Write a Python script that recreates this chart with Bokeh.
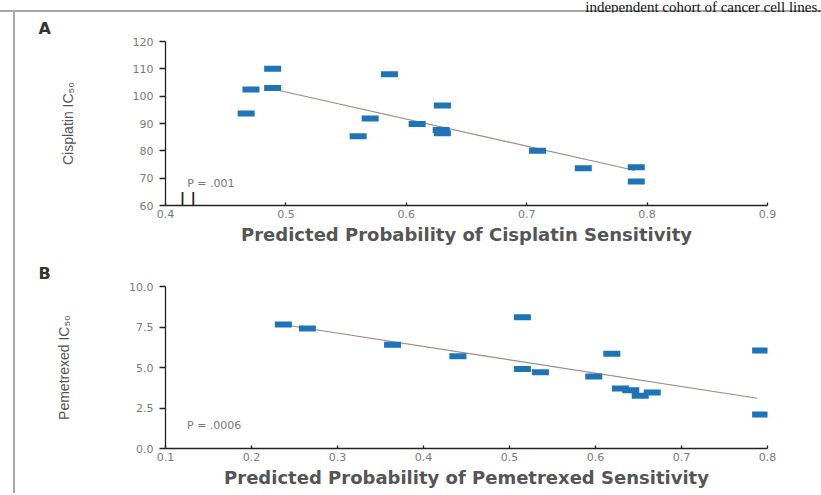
from bokeh.plotting import figure
from bokeh.layouts import column
from bokeh.models import Div, Label, FixedTicker, NumeralTickFormatter, Range1d
from bokeh.embed import file_html
from bokeh.resources import INLINE

# ---- Panel A data (Cisplatin) ----
cis_x = [0.467, 0.471, 0.489, 0.489, 0.560, 0.570, 0.586, 0.609, 0.630, 0.629, 0.630, 0.709, 0.747, 0.791, 0.791]
cis_y = [93.7, 102.4, 110.0, 103.0, 85.3, 91.8, 108.0, 89.8, 96.6, 87.6, 86.4, 80.0, 73.6, 74.0, 68.8]
cis_fit_x = [0.487, 0.790]
cis_fit_y = [102.8, 72.8]
cis_xticks = [0.4, 0.5, 0.6, 0.7, 0.8, 0.9]
cis_yticks = [60, 70, 80, 90, 100, 110, 120]

# ---- Panel B data (Pemetrexed) ----
pem_x = [0.237, 0.265, 0.364, 0.440, 0.515, 0.515, 0.536, 0.598, 0.619, 0.629, 0.641, 0.652, 0.666, 0.792, 0.792]
pem_y = [7.65, 7.40, 6.40, 5.70, 8.10, 4.90, 4.70, 4.45, 5.85, 3.70, 3.60, 3.25, 3.45, 6.05, 2.10]
pem_fit_x = [0.230, 0.788]
pem_fit_y = [7.70, 3.10]
pem_xticks = [0.1, 0.2, 0.3, 0.4, 0.5, 0.6, 0.7, 0.8]
pem_yticks = [0.0, 2.5, 5.0, 7.5, 10.0]

MARK = "#1f74b6"
FIT = "#9a8c84"
TICK_FONT = "DejaVu Sans"


def style(p, xlabel, ylabel, xticks, yticks, xfmt, yfmt, panel):
    p.xgrid.visible = False
    p.ygrid.visible = False
    p.outline_line_color = None
    for ax in (p.xaxis[0], p.yaxis[0]):
        ax.axis_line_color = "#222222"
        ax.axis_line_width = 1.3
        ax.major_tick_line_color = "#222222"
        ax.major_tick_line_width = 1.3
        ax.minor_tick_line_color = None
        ax.major_label_text_font = TICK_FONT
        ax.major_label_text_font_size = "11px"
        ax.major_label_text_color = "#7a7a7a"
    xa = p.xaxis[0]
    ya = p.yaxis[0]
    xa.ticker = FixedTicker(ticks=xticks)
    ya.ticker = FixedTicker(ticks=yticks)
    xa.formatter = NumeralTickFormatter(format=xfmt)
    ya.formatter = NumeralTickFormatter(format=yfmt)
    xa.major_tick_in = 3
    xa.major_tick_out = 0
    xa.major_label_standoff = 4
    ya.major_tick_in = 0
    ya.major_tick_out = 6
    ya.major_label_standoff = 6
    xa.axis_label = xlabel
    xa.axis_label_text_font = "DejaVu Sans"
    xa.axis_label_text_font_style = "bold"
    xa.axis_label_text_font_size = "18px"
    xa.axis_label_text_color = "#555555"
    xa.axis_label_standoff = 3
    ya.axis_label = ylabel
    ya.axis_label_text_font = "Liberation Sans"
    ya.axis_label_text_font_style = "normal"
    ya.axis_label_text_font_size = "14px"
    ya.axis_label_text_color = "#555555"
    ya.axis_label_standoff = 54
    p.title.text = panel
    p.title.align = "left"
    p.title.offset = -127
    p.title.text_font = "DejaVu Sans"
    p.title.text_font_style = "bold"
    p.title.text_font_size = "16px"
    p.title.text_color = "#333333"
    p.title.standoff = 8


# ---- Figure A ----
pA = figure(width=806, height=236, output_backend="svg", toolbar_location=None,
            x_range=Range1d(0.4, 0.9), y_range=Range1d(60, 120),
            min_border_left=148, min_border_right=47, min_border_top=29, min_border_bottom=43)
style(pA, "Predicted Probability of Cisplatin Sensitivity", "Cisplatin IC\u2085\u2080",
      cis_xticks, cis_yticks, "0.0", "0", "A")
pA.line(cis_fit_x, cis_fit_y, line_color=FIT, line_width=1.2)
pA.rect(cis_x, cis_y, width=17, height=6, width_units="screen", height_units="screen",
        fill_color=MARK, line_color=None)
pA.add_layout(Label(x=0.418, y=65.5, text="P = .001", text_font=TICK_FONT,
                    text_font_size="11px", text_color="#777777", text_baseline="bottom"))
pA.add_layout(Label(x=0.4185, y=59.0, text="| |", text_font="DejaVu Sans", text_font_style="bold",
                    text_font_size="15px", text_color="#222222", text_align="center",
                    text_baseline="bottom"))

# ---- Figure B ----
pB = figure(width=806, height=245, output_backend="svg", toolbar_location=None,
            x_range=Range1d(0.1, 0.8), y_range=Range1d(0.0, 10.0),
            min_border_left=150, min_border_right=54, min_border_top=38, min_border_bottom=45)
style(pB, "Predicted Probability of Pemetrexed Sensitivity", "Pemetrexed IC\u2085\u2080",
      pem_xticks, pem_yticks, "0.0", "0.0", "B")
pB.line(pem_fit_x, pem_fit_y, line_color=FIT, line_width=1.2)
pB.rect(pem_x, pem_y, width=17, height=6, width_units="screen", height_units="screen",
        fill_color=MARK, line_color=None)
pB.add_layout(Label(x=0.125, y=1.0, text="P = .0006", text_font=TICK_FONT,
                    text_font_size="11px", text_color="#777777", text_baseline="bottom"))

top = Div(text='<div style="font-family:\'Liberation Serif\';font-size:15px;line-height:11px;'
               'white-space:nowrap;text-align:right;color:#111;width:821px">'
               'independent cohort of cancer cell lines.</div>',
          width=821, height=12, margin=0,
          styles={"border-bottom": "2px solid #a8a8a8"})

body = column(pA, pB, styles={"border-left": "2px solid #a8a8a8"}, margin=(0, 0, 0, 13))
layout = column(top, body, margin=0)

open("out.html", "w").write(file_html(layout, INLINE))
